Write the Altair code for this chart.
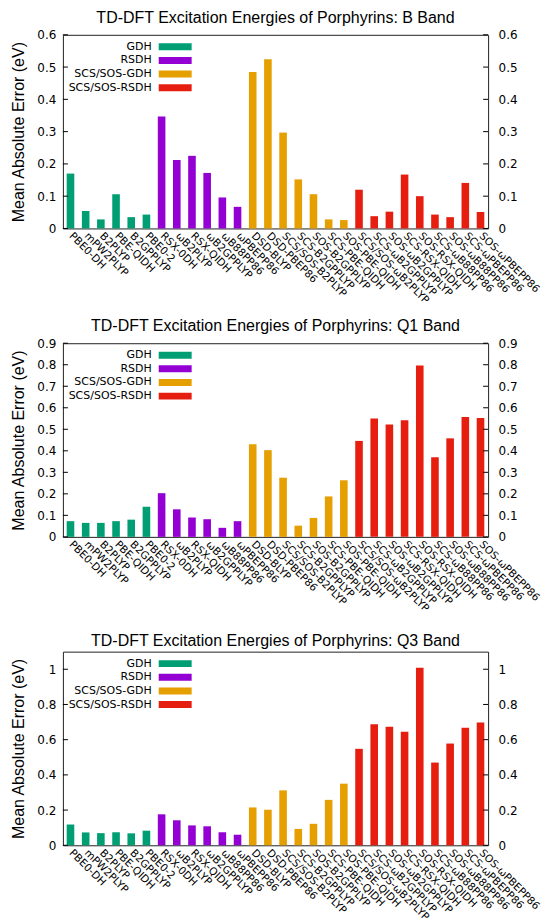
import altair as alt
import pandas as pd

methods = ["PBE0-DH", "mPW2PLYP", "B2PLYP", "PBE-QIDH", "B2GPPLYP", "PBE0-2",
           "RSX-0DH", "ωB2PLYP", "RSX-QIDH", "ωB2GPPLYP", "ωB88PP86", "ωPBEPP86",
           "DSD-BLYP", "DSD-PBEP86", "SCS/SOS-B2PLYP", "SCS-B2GPPLYP", "SOS-B2GPPLYP",
           "SCS-PBE-QIDH", "SOS-PBE-QIDH",
           "SCS/SOS-ωB2PLYP", "SCS-ωB2GPPLYP", "SOS-ωB2GPPLYP", "SCS-RSX-QIDH",
           "SOS-RSX-QIDH", "SCS-ωB88PP86", "SOS-ωB88PP86", "SCS-ωPBEPP86", "SOS-ωPBEPP86"]
groups = ["GDH", "RSDH", "SCS/SOS-GDH", "SCS/SOS-RSDH"]
group_counts = [6, 6, 7, 9]
colors = ["#009e73", "#9400d3", "#e69f00", "#e51e10"]

b_band = [0.170, 0.054, 0.028, 0.106, 0.035, 0.043,
          0.347, 0.212, 0.225, 0.172, 0.096, 0.067,
          0.485, 0.524, 0.297, 0.152, 0.106, 0.028, 0.026,
          0.120, 0.038, 0.052, 0.167, 0.100, 0.043, 0.035, 0.141, 0.051]
q1_band = [0.073, 0.065, 0.065, 0.073, 0.080, 0.140,
           0.203, 0.128, 0.090, 0.082, 0.042, 0.073,
           0.430, 0.403, 0.275, 0.052, 0.088, 0.188, 0.263,
           0.446, 0.550, 0.522, 0.542, 0.797, 0.370, 0.458, 0.557, 0.553]
q3_band = [0.118, 0.073, 0.069, 0.074, 0.068, 0.083,
           0.176, 0.142, 0.113, 0.108, 0.074, 0.060,
           0.215, 0.202, 0.312, 0.093, 0.122, 0.258, 0.350,
           0.548, 0.688, 0.673, 0.645, 1.008, 0.470, 0.578, 0.668, 0.697]

b_ticks = [0, 0.1, 0.2, 0.3, 0.4, 0.5, 0.6]
q1_ticks = [0, 0.1, 0.2, 0.3, 0.4, 0.5, 0.6, 0.7, 0.8, 0.9]
q3_ticks = [0, 0.2, 0.4, 0.6, 0.8, 1.0]

titles = ["TD-DFT Excitation Energies of Porphyrins: B Band",
          "TD-DFT Excitation Energies of Porphyrins: Q1 Band",
          "TD-DFT Excitation Energies of Porphyrins: Q3 Band"]

W, H = 426, 194
LABEL_FONT = "DejaVu Sans"
TITLE_FONT = "Liberation Sans"

method_groups = []
for g, c in zip(groups, group_counts):
    method_groups += [g] * c

color_scale = alt.Scale(domain=groups, range=colors)


def panel(values, ticks, domain_max, title):
    df = pd.DataFrame({"method": methods, "group": method_groups, "value": values})
    tdf = pd.DataFrame({"t": ticks})
    ldf = pd.DataFrame({"group": groups})
    yscale = alt.Scale(domain=[0, domain_max], nice=False, zero=True)

    bars = alt.Chart(df).mark_bar().encode(
        x=alt.X("method:N", sort=methods,
                scale=alt.Scale(paddingInner=0.5, paddingOuter=0.25),
                axis=alt.Axis(title=None, labelAngle=45, labelAlign="left",
                              labelBaseline="top", labelPadding=2, labelOffset=4,
                              ticks=False, domain=False, labelFont=LABEL_FONT,
                              labelFontSize=10.5, labelColor="black", labelLimit=400,
                              labelOverlap=False, labelBound=False)),
        y=alt.Y("value:Q", scale=yscale,
                axis=alt.Axis(title="Mean Absolute Error (eV)", values=ticks, format="~g",
                              ticks=False, domain=False, grid=False, labelPadding=7,
                              labelFont=LABEL_FONT, labelFontSize=12, labelColor="black",
                              titleFont=TITLE_FONT, titleFontSize=16,
                              titleFontWeight="normal", titleColor="black",
                              titlePadding=10)),
        color=alt.Color("group:N", scale=color_scale, legend=None),
    )

    left_ticks = alt.Chart(tdf).mark_rule(color="black").encode(
        y=alt.Y("t:Q", scale=yscale, axis=None),
        x=alt.value(0), x2=alt.value(5),
    )
    right_ticks = alt.Chart(tdf).mark_rule(color="black").encode(
        y=alt.Y("t:Q", scale=yscale,
                axis=alt.Axis(orient="right", title=None, values=ticks, format="~g",
                              ticks=False, domain=False, grid=False, labelPadding=10,
                              labelFont=LABEL_FONT, labelFontSize=12, labelColor="black")),
        x=alt.value(W - 5), x2=alt.value(W),
    )

    lscale = alt.Scale(type="point", domain=groups, range=[12, 53], padding=0)
    leg_text = alt.Chart(ldf).mark_text(align="right", baseline="middle",
                                        font=LABEL_FONT, fontSize=11,
                                        color="black").encode(
        y=alt.Y("group:N", scale=lscale, axis=None),
        x=alt.value(89),
        text="group:N",
    )
    leg_swatch = alt.Chart(ldf).mark_rule(strokeWidth=7).encode(
        y=alt.Y("group:N", scale=lscale, axis=None),
        x=alt.value(96), x2=alt.value(129),
        color=alt.Color("group:N", scale=color_scale, legend=None),
    )

    return alt.layer(bars, left_ticks, right_ticks, leg_text, leg_swatch).resolve_scale(
        y="independent"
    ).properties(
        width=W, height=H,
        title=alt.TitleParams(title, font=TITLE_FONT, fontSize=16, fontWeight="normal",
                              color="black", anchor="middle", offset=3),
    )


chart = alt.vconcat(
    panel(b_band, b_ticks, 0.6, titles[0]),
    panel(q1_band, q1_ticks, 0.9, titles[1]),
    panel(q3_band, q3_ticks, 1.1, titles[2]),
    spacing=115, bounds="flush",
).properties(
    padding={"left": 2, "top": 0, "right": 0, "bottom": 0},
    background="white",
).configure_view(stroke="#222", strokeWidth=1)

chart.save("out.html", embed_options={"renderer": "svg", "actions": False})
